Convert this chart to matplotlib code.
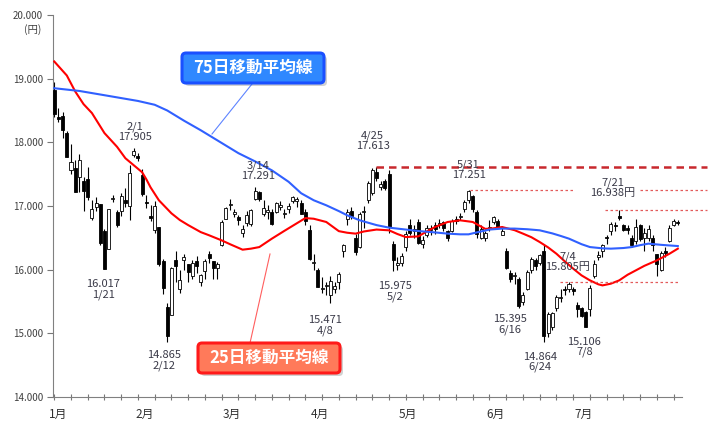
import numpy as np
import matplotlib
matplotlib.use("Agg")
import matplotlib.pyplot as plt
from matplotlib.patches import FancyBboxPatch
from matplotlib.lines import Line2D
from matplotlib.transforms import IdentityTransform

plt.rcParams['font.family'] = ['Noto Sans CJK JP', 'DejaVu Sans']

# daily candles, Jan 4 - Aug 10 (trading days)
opens = [18818, 18398, 18410, 18139, 17562, 17604, 17448, 17400, 17422, 16805,
         16986, 17035, 16600, 16332, 17108, 16898, 16928, 17101, 17004,
         17795, 17779, 17481, 17064, 16841, 16629, 16668, 16130, 15420, 15291,
         16154, 15700, 16150, 16083, 15900, 16140, 15800, 15980, 16250, 16137,
         16029, 16392, 16798, 17013, 16880, 16830, 16580, 16740, 16710, 17110,
         17220, 16870, 16900, 16900, 16900, 16990, 16870, 16960, 17080, 17080,
         17050, 16900,
         16620, 16100, 16000, 15700, 15740, 15600, 15700, 15800, 16300, 16800,
         16920, 16500, 16350, 16900, 17100, 17200, 17530, 17300, 17400, 17500,
         16400, 16070, 16100, 16350, 16700, 16600, 16750, 16400, 16550, 16630,
         16700, 16700, 16750, 16600, 16600, 16800, 16830, 16950, 17100,
         17150, 16900, 16500, 16500, 16650, 16750, 16770, 16550, 16300, 15950,
         15900, 15850, 15500, 15700, 16000, 16150, 16100, 16300, 15000, 15100,
         15400, 15550,
         15700, 15700, 15700, 15450, 15400, 15330, 15380, 15900, 16200, 16300,
         16500, 16600, 16700, 16850, 16700, 16650, 16500, 16450, 16700, 16500,
         16500, 16500, 16250, 16000, 16300, 16450, 16700, 16750]
highs = [18951, 18547, 18469, 18172, 17975, 17728, 17809, 17448, 17616, 17099,
         17134, 17035, 16640, 16958, 17173, 16935, 17200, 17275, 17638,
         17905, 17830, 17587, 17177, 17010, 17083, 16671, 16170, 15480, 16046,
         16290, 16000, 16250, 16083, 16150, 16220, 15930, 16175, 16300, 16140,
         16114, 16782, 16985, 17103, 16960, 16855, 16700, 16928, 16960, 17291,
         17232, 17090, 17020, 16950, 17065, 17080, 16960, 17040, 17150, 17140,
         17100, 16960,
         16700, 16250, 16030, 15880, 15800, 15900, 15800, 15960, 16400, 16950,
         16990, 16560, 16900, 17000, 17400, 17600, 17613, 17390, 17430, 17570,
         16450, 16200, 16260, 16600, 16800, 16700, 16800, 16530, 16700, 16700,
         16750, 16800, 16770, 16620, 16800, 16850, 16890, 17100, 17251,
         17170, 16940, 16700, 16600, 16780, 16850, 16800, 16680, 16340, 16000,
         15960, 15880, 15650, 16000, 16200, 16180, 16240, 16390, 15330, 15340,
         15600, 15700,
         15740, 15805, 15720, 15500, 15420, 15350, 15760, 16150, 16300, 16400,
         16550, 16750, 16750, 16938, 16720, 16700, 16550, 16800, 16720, 16650,
         16700, 16550, 16250, 16300, 16350, 16700, 16790, 16780]
lows = [18394, 18327, 18064, 17767, 17509, 17218, 17222, 16915, 17091, 16785,
        16920, 16387, 16017, 16332, 17056, 16665, 16838, 16985, 16780,
        17763, 17701, 17161, 16969, 16764, 16569, 16055, 15613, 14865, 15291,
        15800, 15640, 16000, 15800, 15860, 15950, 15750, 15850, 16100, 15850,
        15857, 16370, 16789, 16930, 16830, 16700, 16510, 16680, 16680, 17097,
        17080, 16850, 16800, 16700, 16890, 16940, 16810, 16890, 17050, 16990,
        16870, 16700,
        16150, 16000, 15720, 15640, 15600, 15471, 15640, 15700, 16200, 16700,
        16790, 16230, 16340, 16650, 17050, 17180, 17400, 17250, 17250, 16580,
        15975, 16000, 16050, 16300, 16550, 16500, 16400, 16340, 16520, 16550,
        16560, 16650, 16600, 16450, 16590, 16720, 16780, 16900, 17050,
        16900, 16500, 16480, 16450, 16600, 16720, 16650, 16540, 16010, 15800,
        15770, 15395, 15450, 15680, 15950, 16000, 16080, 14864, 14950, 15050,
        15350, 15500,
        15600, 15650, 15600, 15250, 15250, 15106, 15280, 15870, 16150, 16200,
        16400, 16550, 16600, 16780, 16600, 16560, 16350, 16400, 16450, 16300,
        16450, 16300, 15900, 15980, 16200, 16440, 16680, 16700]
closes = [18450, 18374, 18191, 17767, 17697, 17218, 17715, 17240, 17147, 16955,
          17048, 16416, 16017, 16958, 17110, 16708, 17163, 17041, 17518,
          17865, 17750, 17191, 17044, 16819, 17004, 16085, 15713, 14952, 16022,
          16054, 15836, 16196, 15967, 16111, 16052, 15916, 16140, 16188, 16027,
          16085, 16747, 16961, 17015, 16912, 16784, 16642, 16852, 16939, 17233,
          17117, 16974, 16937, 16725, 17048, 17001, 16892, 17003, 17134, 17103,
          16879, 16758,
          16164, 16123, 15732, 15715, 15749, 15821, 15751, 15928, 16381, 16911,
          16848, 16275, 16874, 16906, 17364, 17572, 17440, 17353, 17290, 16666,
          16147, 16106, 16216, 16565, 16579, 16646, 16412, 16466, 16652, 16644,
          16646, 16736, 16654, 16498, 16757, 16772, 16834, 17068, 17234,
          16955, 16562, 16642, 16580, 16675, 16830, 16668, 16601, 16019, 15859,
          15919, 15434, 15599, 15965, 16169, 16065, 16238, 14952, 15309, 15323,
          15566, 15575,
          15682, 15775, 15669, 15378, 15276, 15106, 15708, 16095, 16231, 16385,
          16497, 16723, 16681, 16810, 16627, 16620, 16383, 16664, 16476, 16569,
          16635, 16391, 16083, 16254, 16254, 16650, 16764, 16735]

# moving averages (trading-day index, value)
ma25_idx = [0, 3, 5, 7, 9, 12, 15, 17, 19, 21, 22, 23, 25, 28, 30, 32, 35, 37, 40,
            42, 45, 47, 49, 52, 55, 58, 60, 62, 65, 68, 70, 72, 74, 77, 80, 82,
            84, 87, 89, 91, 94, 97, 100, 103, 105, 107, 110, 112, 114, 116, 118,
            120, 122, 124, 126, 128, 130, 131, 133, 135, 137, 139, 141, 144, 147,
            149]
ma25_val = [19270, 19050, 18800, 18600, 18460, 18145, 17930, 17750, 17640, 17530,
            17420, 17294, 17090, 16885, 16780, 16700, 16590, 16540, 16460, 16400,
            16314, 16330, 16355, 16487, 16610, 16730, 16810, 16800, 16749, 16605,
            16580, 16566, 16600, 16630, 16618, 16560, 16512, 16523, 16600, 16670,
            16749, 16775, 16749, 16640, 16650, 16670, 16620, 16566, 16510, 16434,
            16350, 16250, 16130, 16016, 15910, 15832, 15770, 15753, 15780, 15832,
            15920, 15990, 16060, 16146, 16250, 16330]
ma75_idx = [0, 6, 12, 20, 24, 27, 31, 35, 40, 44, 48, 52, 56, 59, 62, 65, 68, 70,
            73, 77, 80, 84, 87, 91, 94, 97, 99, 101, 104, 107, 110, 113, 116, 119,
            121, 123, 126, 128, 131, 133, 136, 138, 140, 142, 145, 149]
ma75_val = [18850, 18807, 18740, 18650, 18590, 18500, 18340, 18190, 17990, 17830,
            17700, 17560, 17380, 17200, 17090, 17011, 16920, 16854, 16775, 16700,
            16660, 16630, 16607, 16585, 16566, 16555, 16555, 16586, 16630, 16645,
            16645, 16635, 16618, 16570, 16530, 16487, 16400, 16355, 16335, 16330,
            16340, 16355, 16385, 16409, 16390, 16371]

months = ['1月', '2月', '3月', '4月', '5月', '6月', '7月', '8月']
month_pos = [1, 21.5, 42.5, 63.5, 84.5, 105.5, 126.5, 148]

notes = [
    (19.3, 18159, '2/1\n17.905'),
    (11.7, 15690, '16.017\n1/21'),
    (26.3, 14574, '14.865\n2/12'),
    (48.7, 17553, '3/14\n17.291'),
    (76.1, 18025, '4/25\n17.613'),
    (81.4, 15659, '15.975\n5/2'),
    (64.7, 15124, '15.471\n4/8'),
    (99.0, 17569, '5/31\n17.251'),
    (133.4, 17286, '7/21\n16.938円'),
    (108.8, 15140, '15.395\n6/16'),
    (116.0, 14547, '14.864\n6/24'),
    (122.7, 16126, '7/4\n15.805円'),
    (126.7, 14783, '15.106\n7/8'),
]

W, H = 720, 426
fig = plt.figure(figsize=(W / 100, H / 100), dpi=100)
ax = fig.add_axes([53 / W, 29 / H, (682 - 53) / W, (397 - 15) / H])

x = np.arange(len(closes))
o = np.array(opens); c = np.array(closes)
bottoms = np.minimum(o, c)
heights = np.maximum(np.abs(c - o), 18)
colors = ['white' if cc >= oo else 'black' for oo, cc in zip(o, c)]

ax.vlines(x, lows, highs, color='black', lw=0.8, zorder=2)
ax.bar(x, heights, bottom=bottoms, width=0.72, color=colors,
       edgecolor='black', linewidth=0.6, zorder=3)

ax.plot(ma25_idx, ma25_val, color='#ff0000', lw=1.5, zorder=4)
ax.plot(ma75_idx, ma75_val, color='#3060ff', lw=1.5, zorder=4)

# reference lines
ax.plot([77, 156], [17613, 17613], color='#c8282d', lw=1.8, dashes=(3, 2),
        clip_on=False, zorder=5)
dot = dict(color='#e35b5b', lw=0.9, dashes=(2, 2), clip_on=False, zorder=5)
ax.plot([99.3, 124.3], [17251, 17251], **dot)
ax.plot([139.9, 156], [17251, 17251], **dot)
ax.plot([131.5, 156], [16938, 16938], **dot)
ax.plot([120.8, 149.4], [15805, 15805], **dot)

for nx, ny, t in notes:
    ax.text(nx, ny, t, ha='center', va='center', fontsize=8, color='#3a3a48',
            linespacing=1.0, zorder=6)

ax.set_xlim(-0.3, 150)
ax.set_ylim(14000, 20000)
yt = np.arange(14000, 20001, 1000)
ax.set_yticks(yt, [f'{v:,}'.replace(',', '.') for v in yt])
ax.set_xticks(np.arange(0, 150, 4), [])
ax.set_xticks(month_pos, months, minor=True)
ax.tick_params(axis='y', direction='out', length=4, color='#777777',
               labelsize=7, labelcolor='#404040', pad=3)
ax.tick_params(axis='x', which='major', direction='inout', length=5,
               color='#777777')
ax.tick_params(axis='x', which='minor', length=0, labelsize=8.5,
               labelcolor='#303030', pad=8)
for s in ['top', 'right']:
    ax.spines[s].set_visible(False)
for s in ['left', 'bottom']:
    ax.spines[s].set_color('#808080')

fig.text(33 / W, 1 - 30 / H, '(円)', ha='center', va='center', fontsize=7.5,
         color='#404040')

# callout boxes (pixel coordinates)
def callout(x0, y0, w, h, face, edge, label, line):
    tr = IdentityTransform()
    yb = H - y0 - h
    fig.add_artist(FancyBboxPatch((x0 + 3, yb - 3), w, h,
                                  boxstyle='round,pad=0,rounding_size=4',
                                  fc='#999999', ec='none', alpha=0.45,
                                  transform=tr))
    fig.add_artist(FancyBboxPatch((x0, yb), w, h,
                                  boxstyle='round,pad=0,rounding_size=4',
                                  fc=face, ec=edge, lw=2.2, transform=tr))
    fig.text((x0 + w / 2) / W, 1 - (y0 + h / 2) / H, label, ha='center',
             va='center', fontsize=12, color='white', fontweight='bold')
    (ax1, ay1), (ax2, ay2) = line
    fig.add_artist(Line2D([ax1, ax2], [H - ay1, H - ay2], color=edge, lw=0.8,
                          alpha=0.7, transform=tr))

callout(182, 53, 142, 30, '#2f88ff', '#1a50ff', '75日移動平均線',
        ((252, 84), (212, 134)))
callout(198, 343, 142, 30, '#ff7a5a', '#ff1a1a', '25日移動平均線',
        ((250, 343), (270, 254)))

fig.savefig('out.png', dpi=100)
